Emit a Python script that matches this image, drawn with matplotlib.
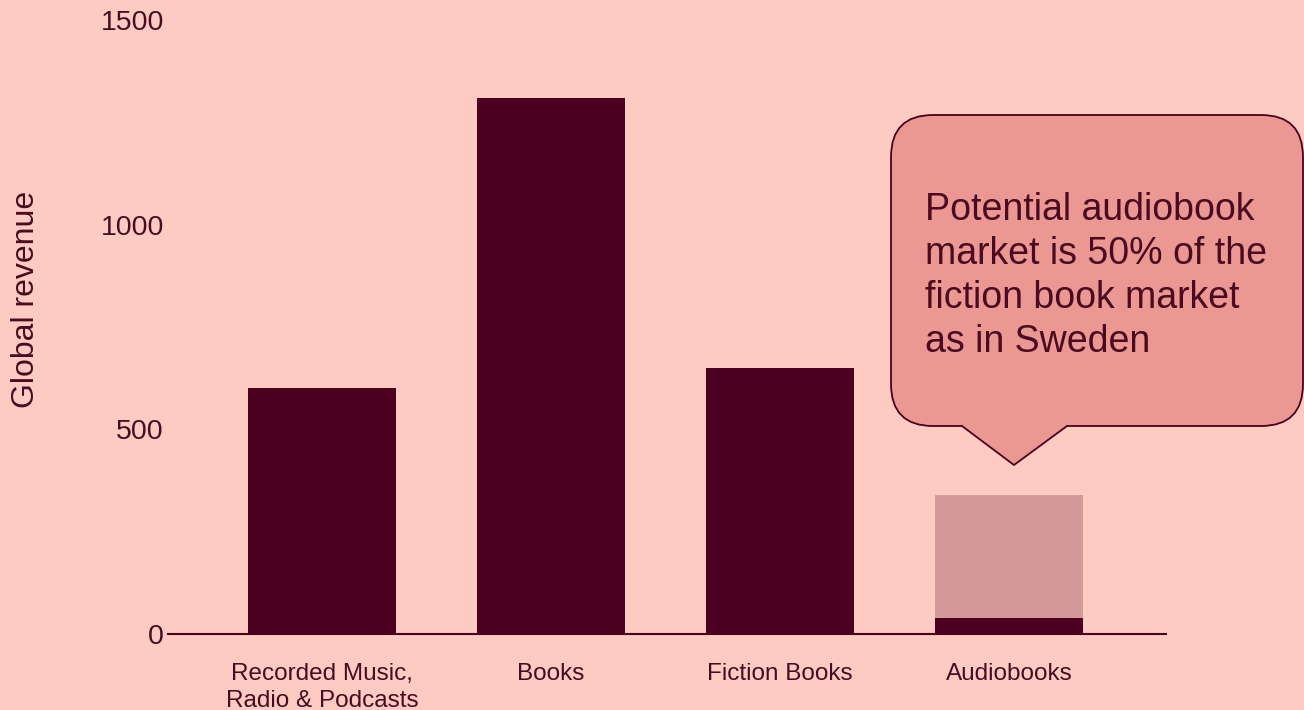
import matplotlib; matplotlib.use('Agg')

import matplotlib.pyplot as plt
import matplotlib.transforms as mtransforms
from matplotlib.patches import FancyBboxPatch, Polygon
from matplotlib.lines import Line2D

plt.rcParams['font.family'] = ['Liberation Sans', 'DejaVu Sans']

categories = ["Recorded Music,\nRadio & Podcasts", "Books", "Fiction Books", "Audiobooks"]
revenue = [600, 1310, 650, 40]
potential_audiobooks = 340  # total height of the potential audiobook market
callout_text = "Potential audiobook\nmarket is 50% of the\nfiction book market\nas in Sweden"

bg = "#FDCBC1"
dark = "#4A001E"
text_col = "#4A0A22"
pot_col = "#D39A99"
bubble_col = "#EB9893"

W, H = 1304, 710
fig = plt.figure(figsize=(W / 100, H / 100), dpi=100, facecolor=bg)
ax = fig.add_axes([168 / W, 1 - 634 / H, (1166 - 168) / W, (634 - 20) / H])
ax.set_facecolor(bg)

x = range(len(categories))
ax.bar(3, potential_audiobooks, width=0.646, color=pot_col, zorder=2)
ax.bar(x, revenue, width=0.646, color=dark, zorder=3)

ax.set_xlim(-0.672, 3.686)
ax.set_ylim(0, 1500)
ax.set_yticks([0, 500, 1000, 1500])
ax.set_xticks(list(x))
ax.set_xticklabels(categories, fontsize=17.5, color=text_col, linespacing=1.3)
ax.tick_params(axis='both', length=0, colors=text_col)
ax.tick_params(axis='x', pad=21)
ax.tick_params(axis='y', pad=3, labelsize=20.5)
for s in ['top', 'right', 'left']:
    ax.spines[s].set_visible(False)
ax.spines['bottom'].set_color(dark)
ax.spines['bottom'].set_linewidth(1.5)
ax.set_ylabel("Global revenue", fontsize=23, color=text_col)
ax.yaxis.set_label_coords(-0.127, 0.545)

# speech bubble, laid out in pixel units measured from the top-left corner
px = mtransforms.Affine2D().scale(1 / W, -1 / H).translate(0, 1) + fig.transFigure
box = FancyBboxPatch((891, 115), 1303 - 891, 426 - 115,
                     boxstyle="round,pad=0,rounding_size=42",
                     facecolor=bubble_col, edgecolor=dark, linewidth=1.3,
                     transform=px, clip_on=False, zorder=5)
fig.add_artist(box)
tail = Polygon([(962, 418), (962, 426), (1014, 465), (1067, 426), (1067, 418)],
               closed=True, facecolor=bubble_col, edgecolor='none',
               transform=px, clip_on=False, zorder=6)
fig.add_artist(tail)
fig.add_artist(Line2D([962, 1014, 1067], [426, 465, 426], color=dark, lw=1.3,
                      transform=px, zorder=7))
fig.text(925 / W, 1 - 192 / H, callout_text, fontsize=27, color=text_col,
         va='top', ha='left', linespacing=1.28, zorder=8)

fig.savefig('out.png', dpi=100, facecolor=bg)
